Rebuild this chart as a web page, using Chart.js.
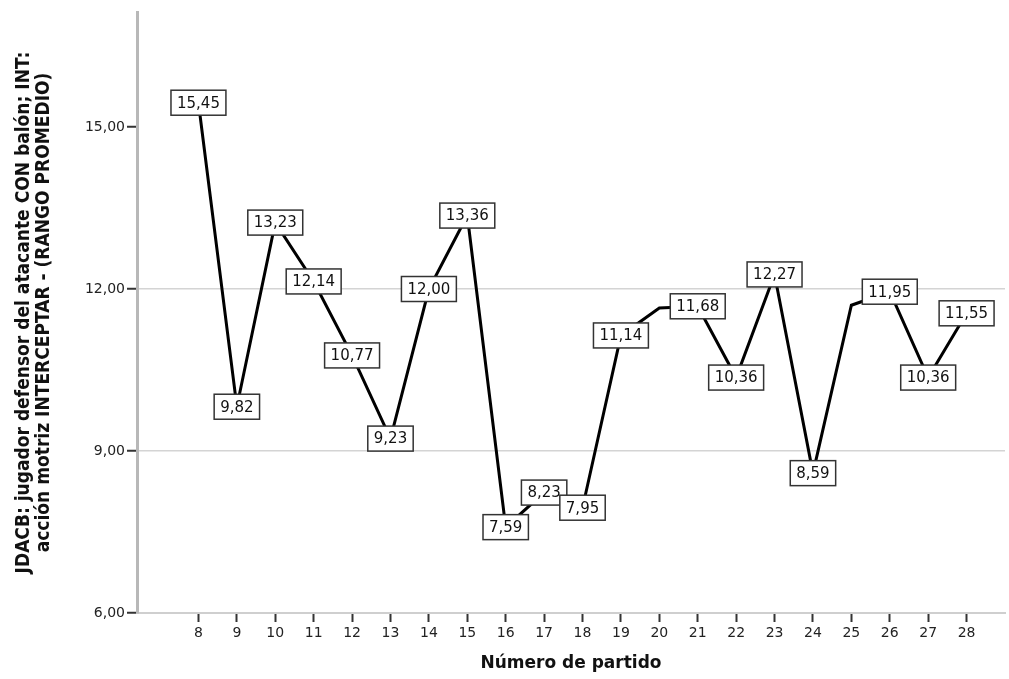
<!DOCTYPE html>
<html lang="es">
<head>
    <meta charset="UTF-8">
    <title>Rango promedio por partido</title>
    <script src="https://cdn.jsdelivr.net/npm/chart.js"></script>
    <style>
        body {
            margin: 0;
            padding: 0;
            background: #fff;
        }
        .chart-container {
            width: 1009px;
            height: 679px;
        }
    </style>
</head>
<body>
    <div class="chart-container">
        <canvas id="rangoChart"></canvas>
    </div>

    <script>
        // partidos 8..28 and average rank per match
        const partidos = [8, 9, 10, 11, 12, 13, 14, 15, 16, 17, 18, 19, 20, 21, 22, 23, 24, 25, 26, 27, 28];
        const rangoPromedio = [15.45, 9.82, 13.23, 12.14, 10.77, 9.23, 12.00, 13.36, 7.59, 8.23, 7.95, 11.14, 11.65, 11.68, 10.36, 12.27, 8.59, 11.70, 11.95, 10.36, 11.55];
        // labels shown in boxes (null = no box for that match)
        const etiquetas = ['15,45', '9,82', '13,23', '12,14', '10,77', '9,23', '12,00', '13,36', '7,59', '8,23', '7,95', '11,14', null, '11,68', '10,36', '12,27', '8,59', null, '11,95', '10,36', '11,55'];
        const yTicks = [6, 9, 12, 15];
        const yGrid = [9, 12];

        const fmt = v => v.toFixed(2).replace('.', ',');

        // white boxes with the value over each point
        const boxLabels = {
            id: 'boxLabels',
            afterDatasetsDraw(chart) {
                const ctx = chart.ctx;
                const meta = chart.getDatasetMeta(0);
                ctx.save();
                ctx.font = '15px "DejaVu Sans", sans-serif';
                ctx.textAlign = 'center';
                ctx.textBaseline = 'middle';
                meta.data.forEach((pt, i) => {
                    const txt = etiquetas[i];
                    if (txt === null) return;
                    const w = ctx.measureText(txt).width + 12;
                    const h = 25;
                    ctx.fillStyle = '#fff';
                    ctx.fillRect(pt.x - w / 2, pt.y - h / 2, w, h);
                    ctx.strokeStyle = '#333';
                    ctx.lineWidth = 1.5;
                    ctx.strokeRect(pt.x - w / 2, pt.y - h / 2, w, h);
                    ctx.fillStyle = '#111';
                    ctx.fillText(txt, pt.x, pt.y + 1);
                });
                ctx.restore();
            }
        };

        const ctx = document.getElementById('rangoChart').getContext('2d');
        new Chart(ctx, {
            type: 'line',
            data: {
                datasets: [{
                    data: partidos.map((p, i) => ({ x: p, y: rangoPromedio[i] })),
                    borderColor: '#000',
                    borderWidth: 3,
                    pointRadius: 0,
                    tension: 0,
                    fill: false
                }]
            },
            options: {
                responsive: true,
                maintainAspectRatio: false,
                animation: false,
                layout: { padding: { top: 12, right: 4, left: 0, bottom: 0 } },
                plugins: {
                    legend: { display: false },
                    tooltip: { enabled: false }
                },
                scales: {
                    x: {
                        type: 'linear',
                        min: 6.4,
                        max: 29.0,
                        afterBuildTicks: scale => { scale.ticks = partidos.map(v => ({ value: v })); },
                        afterFit: scale => { scale.height = 66; },
                        border: { color: '#cfcfcf', width: 2 },
                        grid: { drawOnChartArea: false, tickColor: '#333', tickLength: 9, tickWidth: 2 },
                        ticks: {
                            padding: 3,
                            color: '#222',
                            font: { family: '"DejaVu Sans", sans-serif', size: 14 },
                            callback: v => String(v)
                        },
                        title: {
                            display: true,
                            text: 'Número de partido',
                            color: '#111',
                            font: { family: '"DejaVu Sans", sans-serif', size: 17, weight: 'bold' },
                            padding: { top: 4, bottom: 5 }
                        }
                    },
                    y: {
                        min: 6,
                        max: 17.13,
                        afterBuildTicks: scale => { scale.ticks = yTicks.map(v => ({ value: v })); },
                        afterFit: scale => { scale.width = 137; },
                        border: { color: '#b8b8b8', width: 3 },
                        grid: {
                            color: c => yGrid.includes(c.tick.value) ? '#d4d4d4' : 'rgba(0,0,0,0)',
                            lineWidth: 1.5,
                            tickColor: '#333',
                            tickLength: 10,
                            tickWidth: 2
                        },
                        ticks: {
                            padding: 2,
                            color: '#222',
                            font: { family: '"DejaVu Sans", sans-serif', size: 14 },
                            callback: v => fmt(v)
                        },
                        title: {
                            display: true,
                            text: ['JDACB: jugador defensor del atacante CON balón; INT:', 'acción motriz INTERCEPTAR - (RANGO PROMEDIO)'],
                            color: '#111',
                            font: { family: '"DejaVu Sans Condensed", sans-serif', size: 19, weight: 'bold', lineHeight: 1.05 },
                            padding: { top: 14, bottom: 0 }
                        }
                    }
                }
            },
            plugins: [boxLabels]
        });
    </script>
</body>
</html>
